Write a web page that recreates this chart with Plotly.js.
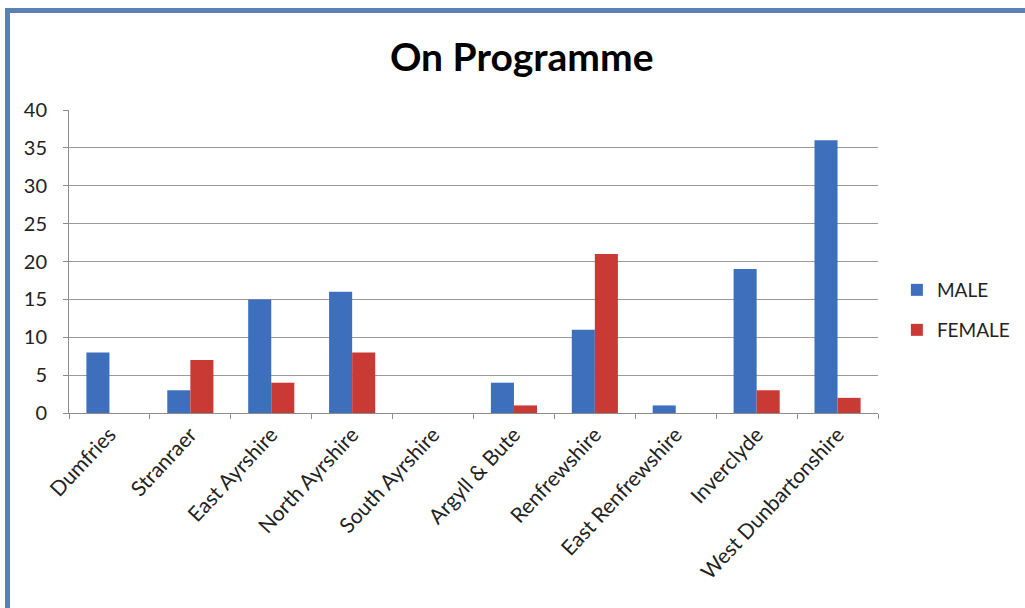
<!DOCTYPE html>
<html>
<head>
<meta charset="utf-8">
<script src="https://cdn.plot.ly/plotly-3.0.1.min.js"></script>
<style>
  html, body { margin: 0; padding: 0; background: #fff; }
  #frame { position: absolute; left: 5px; top: 8px; width: 1030px; height: 620px;
           border-top: 5px solid #5a80b6; border-left: 5px solid #5a80b6; }
  #chart { position: absolute; left: 0; top: 0; width: 1025px; height: 608px; }
</style>
</head>
<body>
<div id="chart"></div>
<div id="frame"></div>
<script>
const categories = ["Dumfries", "Stranraer", "East Ayrshire", "North Ayrshire", "South Ayrshire",
  "Argyll & Bute", "Renfrewshire", "East Renfrewshire", "Inverclyde", "West Dunbartonshire"];
const maleValues = [8, 3, 15, 16, 0, 4, 11, 1, 19, 36];
const femaleValues = [0, 7, 4, 8, 0, 1, 21, 0, 3, 2];
const yTicks = [0, 5, 10, 15, 20, 25, 30, 35, 40];

const font = "Lato, Calibri, 'Open Sans', sans-serif";

const data = [
  { type: "bar", name: "MALE", x: categories, y: maleValues, legend: "legend",
    marker: { color: "#3d6fbd", line: { width: 0 } } },
  { type: "bar", name: "FEMALE", x: categories, y: femaleValues, legend: "legend2",
    marker: { color: "#c93a34", line: { width: 0 } } }
];

const layout = {
  width: 1025, height: 608,
  margin: { l: 69, r: 147, t: 110, b: 195 },
  paper_bgcolor: "#ffffff", plot_bgcolor: "#ffffff",
  font: { family: font, color: "#222", size: 19 },
  title: { text: "<b>On Programme</b>", font: { family: font, size: 39, color: "#000" },
           x: 0.509, xref: "container", y: 0.905, yref: "container", yanchor: "middle" },
  barmode: "group", bargap: 0.43, bargroupgap: 0,
  xaxis: { type: "category", showline: true, linecolor: "#8c8c8c", linewidth: 1,
           ticks: "outside", tickson: "boundaries", ticklen: 5, tickcolor: "#8c8c8c",
           tickangle: -47, tickfont: { size: 21, color: "#222" }, showgrid: false },
  yaxis: { range: [0, 40], tickvals: yTicks, showline: true, linecolor: "#8c8c8c",
           ticks: "outside", ticklen: 5, tickcolor: "#8c8c8c",
           gridcolor: "#9a9a9a", gridwidth: 1, zeroline: false,
           tickfont: { size: 20, color: "#222" }, ticklabelstandoff: 12 },
  showlegend: true,
  legend: { xref: "container", yref: "container", x: 0.875, y: 1 - 290/608,
            xanchor: "left", yanchor: "middle", font: { size: 19, color: "#222" },
            bgcolor: "rgba(0,0,0,0)", itemwidth: 30 },
  legend2: { xref: "container", yref: "container", x: 0.875, y: 1 - 330/608,
            xanchor: "left", yanchor: "middle", font: { size: 19, color: "#222" },
            bgcolor: "rgba(0,0,0,0)", itemwidth: 30 }
};

Plotly.newPlot("chart", data, layout, { displayModeBar: false, staticPlot: true });
</script>
</body>
</html>
